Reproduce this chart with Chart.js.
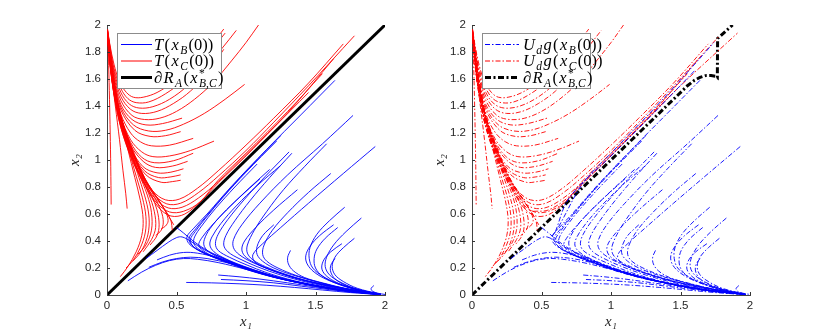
<!DOCTYPE html>
<html><head><meta charset="utf-8">
<script src="https://cdn.jsdelivr.net/npm/chart.js@4.4.1/dist/chart.umd.min.js"></script>
<style>
body{margin:0;background:#fff;width:830px;height:332px;overflow:hidden;position:relative}
canvas{position:absolute;top:0}
</style></head><body>
<canvas id="c1" width="414" height="332" style="left:0"></canvas>
<canvas id="c2" width="416" height="332" style="left:414px"></canvas>
<script>
// ---------- tick values / labels ----------
const xTicks = [0, 0.5, 1, 1.5, 2];
const xTickLabels = ['0', '0.5', '1', '1.5', '2'];
const yTicks = [0, 0.2, 0.4, 0.6, 0.8, 1, 1.2, 1.4, 1.6, 1.8, 2];
const yTickLabels = ['0', '0.2', '0.4', '0.6', '0.8', '1', '1.2', '1.4', '1.6', '1.8', '2'];

// ---------- red trajectories T(x_C(0)) : U-shaped ----------
const redU = [
 [[0.004,1.97],[0.02,1.86],[0.05,1.71],[0.09,1.58],[0.14,1.5],[0.19,1.465],[0.26,1.465],[0.36,1.5],[0.48,1.58],[0.6,1.68],[0.72,1.81],[0.84,1.97]],
 [[0.004,1.965],[0.02,1.85],[0.05,1.68],[0.1,1.53],[0.15,1.455],[0.21,1.425],[0.3,1.43],[0.42,1.49],[0.55,1.59],[0.7,1.75],[0.85,1.94]],
 [[0.004,1.96],[0.02,1.84],[0.05,1.66],[0.1,1.5],[0.16,1.415],[0.23,1.385],[0.33,1.395],[0.45,1.45],[0.58,1.55],[0.72,1.7],[0.83,1.83],[0.93,1.96]],
 [[0.004,1.96],[0.02,1.83],[0.05,1.64],[0.1,1.47],[0.17,1.375],[0.25,1.345],[0.36,1.36],[0.48,1.42],[0.6,1.51],[0.72,1.64],[0.84,1.82]],
 [[0.004,1.955],[0.02,1.82],[0.05,1.62],[0.1,1.44],[0.18,1.33],[0.27,1.3],[0.38,1.31],[0.5,1.36],[0.63,1.45],[0.76,1.57],[0.9,1.74],[1.0,1.87],[1.09,2.0]],
 [[0.004,1.95],[0.02,1.81],[0.05,1.6],[0.1,1.41],[0.18,1.3],[0.28,1.26],[0.4,1.27],[0.54,1.31]],
 [[0.004,1.95],[0.02,1.8],[0.05,1.59],[0.1,1.39],[0.19,1.26],[0.3,1.215],[0.42,1.22],[0.55,1.265],[0.7,1.345],[0.85,1.45],[0.99,1.56]],
 [[0.004,1.945],[0.02,1.79],[0.05,1.57],[0.1,1.37],[0.2,1.22],[0.31,1.175],[0.42,1.18],[0.53,1.21]],
 [[0.004,1.94],[0.02,1.78],[0.05,1.56],[0.1,1.34],[0.17,1.2],[0.24,1.135],[0.32,1.105],[0.45,1.11],[0.62,1.16]],
 [[0.004,1.94],[0.02,1.77],[0.05,1.55],[0.1,1.32],[0.17,1.15],[0.25,1.06],[0.33,1.025],[0.45,1.03],[0.6,1.07],[0.77,1.14]],
 [[0.004,1.935],[0.02,1.76],[0.05,1.54],[0.1,1.31],[0.17,1.13],[0.25,1.02],[0.34,0.98],[0.48,0.995],[0.62,1.05]],
 [[0.004,1.935],[0.02,1.76],[0.05,1.53],[0.1,1.3],[0.17,1.11],[0.26,0.99],[0.35,0.945],[0.47,0.955],[0.58,0.99]],
 [[0.004,1.93],[0.02,1.75],[0.05,1.53],[0.1,1.29],[0.17,1.09],[0.26,0.95],[0.36,0.905],[0.46,0.91],[0.55,0.935]],
 [[0.004,1.93],[0.02,1.75],[0.05,1.52],[0.1,1.28],[0.18,1.06],[0.27,0.92],[0.37,0.87],[0.46,0.875],[0.53,0.89]],
 [[0.004,1.93],[0.02,1.74],[0.05,1.52],[0.1,1.28],[0.18,1.05],[0.28,0.89],[0.39,0.835],[0.47,0.84],[0.53,0.85]],
 [[0.004,1.925],[0.02,1.74],[0.05,1.51],[0.1,1.27],[0.17,1.06],[0.25,0.9],[0.33,0.77],[0.42,0.705],[0.52,0.71],[0.65,0.79],[0.8,0.92],[1.0,1.11],[1.2,1.31],[1.45,1.57],[1.7,1.86]],
 [[0.004,1.925],[0.02,1.73],[0.05,1.5],[0.1,1.26],[0.17,1.05],[0.25,0.88],[0.34,0.745],[0.43,0.675],[0.53,0.68],[0.66,0.76],[0.8,0.88],[1.0,1.07],[1.2,1.28],[1.45,1.55],[1.78,1.92]],
 [[0.004,1.92],[0.02,1.73],[0.05,1.5],[0.1,1.25],[0.18,1.02],[0.26,0.85],[0.35,0.71],[0.44,0.645],[0.54,0.65],[0.66,0.72],[0.8,0.84],[1.0,1.04],[1.3,1.35],[1.63,1.75]],
 [[0.004,1.92],[0.02,1.72],[0.05,1.49],[0.1,1.24],[0.18,1.01],[0.27,0.82],[0.36,0.68],[0.45,0.615],[0.55,0.62],[0.67,0.69],[0.8,0.85],[1.0,1.05],[1.3,1.36],[1.55,1.64]],
 [[0.004,1.92],[0.02,1.72],[0.05,1.49],[0.1,1.24],[0.18,1.0],[0.28,0.8],[0.37,0.65],[0.46,0.585],[0.56,0.6],[0.68,0.7],[0.8,0.83],[1.0,1.03],[1.2,1.24],[1.45,1.5]]
];
// ---------- red trajectories : bending back to lower-left ----------
const redS = [
 [[0.006,1.9],[0.012,1.7],[0.018,1.45],[0.023,1.2],[0.027,0.95],[0.03,0.67]],
 [[0.01,1.88],[0.03,1.65],[0.06,1.4],[0.09,1.15],[0.115,0.92],[0.135,0.75],[0.145,0.64]],
 [[0.008,1.92],[0.03,1.7],[0.06,1.5],[0.1,1.3],[0.15,1.08],[0.2,0.87],[0.24,0.7],[0.26,0.56],[0.25,0.44],[0.21,0.32],[0.15,0.21],[0.096,0.136]],
 [[0.008,1.92],[0.03,1.7],[0.06,1.5],[0.1,1.31],[0.15,1.1],[0.21,0.88],[0.255,0.72],[0.28,0.58],[0.275,0.46],[0.24,0.35],[0.19,0.26],[0.137,0.2]],
 [[0.008,1.92],[0.03,1.71],[0.06,1.5],[0.1,1.31],[0.16,1.1],[0.22,0.9],[0.27,0.74],[0.3,0.6],[0.3,0.48],[0.27,0.37],[0.23,0.3],[0.184,0.25]],
 [[0.008,1.92],[0.03,1.71],[0.06,1.5],[0.1,1.32],[0.16,1.11],[0.23,0.9],[0.29,0.74],[0.32,0.61],[0.32,0.48],[0.28,0.37],[0.22,0.3]],
 [[0.008,1.92],[0.03,1.71],[0.06,1.51],[0.1,1.32],[0.17,1.1],[0.24,0.9],[0.3,0.75],[0.34,0.62],[0.35,0.5],[0.32,0.41],[0.26,0.32]],
 [[0.008,1.92],[0.03,1.72],[0.06,1.51],[0.1,1.32],[0.17,1.1],[0.25,0.89],[0.32,0.74],[0.36,0.63],[0.375,0.52],[0.36,0.44],[0.31,0.37]],
 [[0.008,1.92],[0.03,1.72],[0.06,1.51],[0.1,1.32],[0.17,1.1],[0.26,0.88],[0.34,0.73],[0.39,0.62],[0.405,0.54],[0.39,0.48],[0.35,0.44]],
 [[0.008,1.92],[0.03,1.72],[0.06,1.51],[0.1,1.32],[0.18,1.09],[0.27,0.87],[0.36,0.72],[0.42,0.62],[0.44,0.55],[0.42,0.51],[0.39,0.49]],
 [[0.008,1.92],[0.03,1.72],[0.06,1.51],[0.1,1.31],[0.18,1.07],[0.28,0.85],[0.38,0.69],[0.44,0.59],[0.48,0.52]],
 [[0.008,1.92],[0.03,1.72],[0.06,1.5],[0.1,1.3],[0.18,1.06],[0.28,0.84],[0.37,0.7],[0.43,0.61],[0.46,0.55],[0.47,0.48]]
];
// ---------- blue trajectories T(x_B(0)) : C-shaped ----------
const blueC = [
 [[1.64,1.59],[1.4,1.34],[1.15,1.08],[0.9,0.81],[0.72,0.6],[0.62,0.49],[0.575,0.43],[0.59,0.38],[0.66,0.33],[0.8,0.265],[1.0,0.195],[1.2,0.135],[1.4,0.088],[1.6,0.05],[1.8,0.021],[1.97,0.004]],
 [[1.25,1.18],[1.05,0.97],[0.87,0.77],[0.72,0.59],[0.63,0.48],[0.59,0.42],[0.61,0.37],[0.68,0.32],[0.82,0.26],[1.0,0.193],[1.2,0.133],[1.4,0.087],[1.6,0.049],[1.8,0.02],[1.97,0.004]],
 [[1.22,1.14],[1.0,0.91],[0.84,0.73],[0.71,0.57],[0.635,0.47],[0.6,0.41],[0.62,0.36],[0.7,0.31],[0.84,0.252],[1.0,0.19],[1.2,0.131],[1.4,0.086],[1.6,0.048],[1.8,0.02],[1.97,0.004]],
 [[1.08,0.97],[0.92,0.8],[0.78,0.64],[0.68,0.51],[0.63,0.43],[0.625,0.38],[0.66,0.34],[0.74,0.295],[0.88,0.24],[1.05,0.178],[1.25,0.12],[1.45,0.077],[1.65,0.041],[1.85,0.015],[1.97,0.004]],
 [[1.17,0.93],[1.0,0.77],[0.86,0.63],[0.75,0.51],[0.68,0.42],[0.66,0.37],[0.69,0.33],[0.77,0.285],[0.9,0.235],[1.05,0.18],[1.25,0.122],[1.45,0.078],[1.65,0.042],[1.85,0.015],[1.97,0.004]],
 [[1.10,0.86],[0.95,0.72],[0.83,0.6],[0.74,0.49],[0.7,0.41],[0.7,0.36],[0.74,0.315],[0.82,0.27],[0.95,0.22],[1.1,0.165],[1.3,0.11],[1.5,0.068],[1.7,0.034],[1.9,0.01]],
 [[1.25,0.96],[1.08,0.81],[0.93,0.66],[0.82,0.53],[0.755,0.43],[0.74,0.37],[0.77,0.32],[0.85,0.27],[0.98,0.215],[1.15,0.155],[1.35,0.1],[1.55,0.06],[1.75,0.028],[1.95,0.006]],
 [[1.31,1.06],[1.14,0.88],[0.99,0.71],[0.87,0.56],[0.8,0.45],[0.78,0.38],[0.8,0.33],[0.88,0.28],[1.0,0.225],[1.15,0.165],[1.35,0.105],[1.55,0.063],[1.75,0.03],[1.95,0.006]],
 [[1.33,1.05],[1.17,0.87],[1.03,0.7],[0.92,0.55],[0.855,0.44],[0.84,0.37],[0.87,0.32],[0.95,0.27],[1.08,0.21],[1.25,0.148],[1.45,0.092],[1.65,0.05],[1.85,0.018],[1.97,0.004]],
 [[1.77,1.33],[1.55,1.12],[1.3,0.89],[1.1,0.68],[0.97,0.52],[0.91,0.41],[0.91,0.35],[0.95,0.3],[1.04,0.245],[1.18,0.185],[1.35,0.125],[1.55,0.075],[1.75,0.036],[1.95,0.008]],
 [[1.37,0.78],[1.2,0.63],[1.07,0.5],[0.99,0.4],[0.97,0.34],[0.99,0.29],[1.06,0.24],[1.2,0.18],[1.38,0.12],[1.58,0.07],[1.78,0.032],[1.95,0.008]],
 [[1.93,1.1],[1.7,0.9],[1.45,0.68],[1.25,0.5],[1.12,0.38],[1.05,0.3],[1.06,0.25],[1.12,0.21],[1.25,0.16],[1.42,0.11],[1.62,0.065],[1.82,0.028],[1.97,0.006]],
 [[1.58,1.12],[1.42,0.95],[1.27,0.78],[1.15,0.62],[1.06,0.48],[1.01,0.37],[1.01,0.31],[1.05,0.26],[1.14,0.21],[1.28,0.155],[1.46,0.1],[1.66,0.056],[1.86,0.02]],
 [[1.61,0.9],[1.45,0.76],[1.3,0.61],[1.19,0.48],[1.13,0.37],[1.12,0.3],[1.15,0.25],[1.23,0.2],[1.36,0.145],[1.52,0.095],[1.7,0.05],[1.9,0.015]],
 [[1.2,0.52],[1.12,0.44],[1.08,0.36],[1.08,0.3],[1.12,0.25],[1.2,0.2],[1.33,0.15],[1.5,0.1],[1.7,0.05],[1.9,0.015]],
 [[1.32,0.33],[1.3,0.28],[1.305,0.23],[1.34,0.18],[1.42,0.13],[1.55,0.09],[1.72,0.048],[1.9,0.014]],
 [[1.63,0.52],[1.53,0.44],[1.46,0.36],[1.43,0.29],[1.44,0.23],[1.49,0.17],[1.58,0.115],[1.7,0.07],[1.85,0.03],[1.97,0.006]],
 [[1.66,0.5],[1.57,0.42],[1.51,0.34],[1.49,0.27],[1.5,0.2],[1.55,0.14],[1.64,0.09],[1.78,0.042],[1.95,0.008]],
 [[1.71,0.65],[1.6,0.55],[1.51,0.45],[1.46,0.35],[1.455,0.27],[1.48,0.2],[1.55,0.14],[1.65,0.09],[1.8,0.04],[1.97,0.006]],
 [[1.69,0.38],[1.61,0.32],[1.56,0.26],[1.545,0.2],[1.57,0.15],[1.63,0.105],[1.73,0.06],[1.87,0.02]],
 [[1.83,0.57],[1.72,0.47],[1.63,0.37],[1.58,0.28],[1.57,0.21],[1.6,0.15],[1.67,0.1],[1.78,0.05],[1.92,0.012]],
 [[1.78,0.42],[1.7,0.35],[1.64,0.28],[1.62,0.21],[1.64,0.15],[1.7,0.1],[1.8,0.05],[1.95,0.01]],
 [[1.64,0.27],[1.61,0.22],[1.61,0.17],[1.64,0.12],[1.71,0.075],[1.82,0.035],[1.95,0.008]],
 [[1.92,0.07],[1.9,0.048],[1.91,0.028],[1.95,0.013],[2.0,0.004]]
];
// ---------- blue trajectories : humps and flat ones near the bottom ----------
const blueLow = [
 [[0.15,0.105],[0.25,0.17],[0.35,0.22],[0.45,0.255],[0.55,0.27],[0.65,0.265],[0.8,0.24],[1.0,0.19],[1.2,0.132],[1.4,0.086],[1.6,0.049],[1.8,0.02],[1.97,0.004]],
 [[0.3,0.205],[0.4,0.245],[0.5,0.27],[0.6,0.28],[0.72,0.27],[0.88,0.235],[1.05,0.185],[1.25,0.125],[1.45,0.08],[1.65,0.043],[1.85,0.016]],
 [[0.36,0.26],[0.45,0.295],[0.55,0.315],[0.65,0.31],[0.8,0.275],[1.0,0.205],[1.2,0.14],[1.4,0.09],[1.6,0.05],[1.8,0.021],[1.97,0.004]],
 [[0.28,0.27],[0.36,0.33],[0.44,0.39],[0.5,0.425],[0.54,0.43],[0.6,0.4],[0.7,0.335],[0.85,0.265],[1.0,0.2],[1.2,0.137],[1.4,0.088],[1.6,0.05],[1.8,0.021],[1.97,0.004]],
 [[0.5,0.5],[0.55,0.46],[0.62,0.4],[0.72,0.33],[0.86,0.262],[1.0,0.2],[1.2,0.137],[1.4,0.089],[1.6,0.05]],
 [[0.57,0.093],[0.75,0.09],[0.95,0.083],[1.15,0.072],[1.35,0.056],[1.55,0.037],[1.75,0.018],[1.95,0.004]],
 [[0.8,0.148],[0.95,0.135],[1.1,0.118],[1.3,0.09],[1.5,0.06],[1.7,0.03],[1.9,0.008]],
 [[0.82,0.115],[1.0,0.106],[1.2,0.09],[1.4,0.065],[1.6,0.04],[1.8,0.017]]
];
// ---------- extra trajectories seen only in the right panel ----------
const redExtraR = [
 [[0.44,0.62],[0.55,0.63],[0.7,0.73],[0.9,0.93],[1.2,1.24],[1.5,1.55],[1.91,1.94]]
];
const blueExtraR = [
 [[0.58,0.44],[0.62,0.5],[0.8,0.83],[1.0,1.05],[1.3,1.37],[1.55,1.65],[1.74,1.87]],
 [[0.6,0.47],[0.7,0.72],[1.0,1.03],[1.3,1.34],[1.6,1.66]]
];
// ---------- boundaries dR_A ----------
const boundaryL = [[0,0],[2,2]];
const boundaryR = [[0,0],[0.5,0.5],[1.0,1.0],[1.55,1.55],[1.6,1.59],[1.64,1.612],[1.68,1.625],[1.72,1.626],[1.75,1.62],[1.765,1.61],[1.767,1.9],[1.875,2.0]];

// ---------- helpers ----------
const BLUE = '#0000ff', RED = '#ff0000';
const DASHDOT = [5, 2, 1.5, 2];
const THICKDASH = [6, 2.5, 2, 2.5];
function sets(curves, color, dash, width) {
  return curves.map(c => ({data: c, borderColor: color, borderWidth: width, borderDash: dash,
    pointRadius: 0, showLine: true, tension: 0.35, fill: false}));
}
function drawMath(ctx, x, y, parts) {
  const fam = '"Liberation Serif","DejaVu Serif",serif';
  let cx = x;
  for (const p of parts) {
    const sz = (p.sub || p.sup) ? 11.5 : 16.5;
    ctx.font = (p.it ? 'italic ' : '') + sz + 'px ' + fam;
    const dy = p.sub ? 4 : (p.sup ? -6 : 0);
    ctx.fillText(p.t, cx, y + dy);
    if (!p.noadv) cx += ctx.measureText(p.t).width + 1.4;
  }
}
const legendPlugin = {
  id: 'mathLegend',
  afterDraw(chart) {
    const o = chart.options.plugins.mathLegend;
    if (!o) return;
    const ctx = chart.ctx, ca = chart.chartArea;
    // inward ticks
    ctx.save();
    ctx.strokeStyle = '#333'; ctx.lineWidth = 1; ctx.setLineDash([]);
    ctx.beginPath();
    for (const v of xTicks) { const px = Math.round(chart.scales.x.getPixelForValue(v)) + 0.5; ctx.moveTo(px, ca.bottom); ctx.lineTo(px, ca.bottom - 3); }
    for (const v of yTicks) { const py = Math.round(chart.scales.y.getPixelForValue(v)) + 0.5; ctx.moveTo(ca.left, py); ctx.lineTo(ca.left + 3, py); }
    ctx.stroke();
    // legend box
    const bx = ca.left + 10, by = 33;
    ctx.fillStyle = '#fff'; ctx.fillRect(bx, by, o.w, 55);
    ctx.strokeStyle = '#8c8c8c'; ctx.lineWidth = 1;
    ctx.strokeRect(bx + 0.5, by + 0.5, o.w, 55);
    const rows = [44.5, 61, 77.5];
    o.entries.forEach((e, i) => {
      ctx.strokeStyle = e.color; ctx.lineWidth = e.width; ctx.setLineDash(e.dash);
      ctx.beginPath(); ctx.moveTo(ca.left + o.s0, rows[i]); ctx.lineTo(ca.left + o.s1, rows[i]); ctx.stroke();
      ctx.setLineDash([]);
      ctx.fillStyle = '#000'; ctx.textBaseline = 'alphabetic'; ctx.textAlign = 'left';
      drawMath(ctx, ca.left + o.tx, rows[i] + 5, e.parts);
    });
    ctx.restore();
  }
};
function scales() {
  const tickFont = {family: '"Liberation Sans", Arial, sans-serif', size: 11.5};
  const titleFont = {family: '"Liberation Serif","DejaVu Serif",serif', size: 15, style: 'italic'};
  return {
    x: {type: 'linear', min: 0, max: 2,
      afterBuildTicks: s => { s.ticks = xTicks.map(v => ({value: v})); },
      afterFit: s => { s.height = 37; },
      ticks: {callback: v => xTickLabels[xTicks.indexOf(v)], font: tickFont, color: '#262626', padding: 4, maxRotation: 0, autoSkip: false},
      grid: {display: false, drawTicks: false},
      border: {display: true, color: '#444', width: 1},
      title: {display: true, text: 'x₁', font: titleFont, color: '#262626', padding: {top: 0, bottom: 1}}},
    y: {type: 'linear', min: 0, max: 2,
      afterBuildTicks: s => { s.ticks = yTicks.map(v => ({value: v})); },
      afterFit: s => { s.width = 58; },
      ticks: {callback: v => yTickLabels[yTicks.indexOf(v)], font: tickFont, color: '#262626', padding: 6, autoSkip: false},
      grid: {display: false, drawTicks: false},
      border: {display: true, color: '#444', width: 1},
      title: {display: true, text: 'x₂', font: titleFont, color: '#262626', padding: {top: 17, bottom: 0}}}
  };
}
function make(id, datasets, pad, legend) {
  return new Chart(document.getElementById(id), {
    type: 'scatter',
    data: {datasets},
    options: {responsive: false, animation: false, devicePixelRatio: 1,
      layout: {padding: pad},
      plugins: {legend: {display: false}, tooltip: {enabled: false}, mathLegend: legend},
      scales: scales()},
    plugins: [legendPlugin]
  });
}
const lw = 0.9;
const dsL = [].concat(
  sets(blueC, BLUE, [], lw), sets(blueLow, BLUE, [], lw),
  sets(redU, RED, [], lw), sets(redS, RED, [], lw),
  [{data: boundaryL, borderColor: '#000', borderWidth: 3, pointRadius: 0, showLine: true, tension: 0}]
);
const dsR = [].concat(
  sets(blueC, BLUE, DASHDOT, lw), sets(blueLow, BLUE, DASHDOT, lw), sets(blueExtraR, BLUE, DASHDOT, lw),
  sets(redU, RED, DASHDOT, lw), sets(redS, RED, DASHDOT, lw), sets(redExtraR, RED, DASHDOT, lw),
  [{data: boundaryR, borderColor: '#000', borderWidth: 3, borderDash: THICKDASH, pointRadius: 0, showLine: true, tension: 0}]
);
make('c1', dsL, {left: 49, right: 29, top: 25, bottom: 0}, {
  w: 104, s0: 14, s1: 45, tx: 47,
  entries: [
    {color: BLUE, width: 1, dash: [], parts: [{t:'T',it:1},{t:'('},{t:'x',it:1},{t:'B',it:1,sub:1},{t:'(0))'}]},
    {color: RED, width: 1, dash: [], parts: [{t:'T',it:1},{t:'('},{t:'x',it:1},{t:'C',it:1,sub:1},{t:'(0))'}]},
    {color: '#000', width: 3, dash: [], parts: [{t:'∂'},{t:'R',it:1},{t:'A',it:1,sub:1},{t:'('},{t:'x',it:1},{t:'*',sup:1,noadv:1},{t:'B,C',it:1,sub:1},{t:')'}]}
  ]});
make('c2', dsR, {left: 0, right: 80, top: 25, bottom: 0}, {
  w: 108, s0: 13, s1: 47, tx: 51,
  entries: [
    {color: BLUE, width: 1, dash: DASHDOT, parts: [{t:'U',it:1},{t:'d',it:1,sub:1},{t:'g',it:1},{t:'('},{t:'x',it:1},{t:'B',it:1,sub:1},{t:'(0))'}]},
    {color: RED, width: 1, dash: DASHDOT, parts: [{t:'U',it:1},{t:'d',it:1,sub:1},{t:'g',it:1},{t:'('},{t:'x',it:1},{t:'C',it:1,sub:1},{t:'(0))'}]},
    {color: '#000', width: 3, dash: THICKDASH, parts: [{t:'∂'},{t:'R',it:1},{t:'A',it:1,sub:1},{t:'('},{t:'x',it:1},{t:'*',sup:1,noadv:1},{t:'B,C',it:1,sub:1},{t:')'}]}
  ]});
</script>
</body></html>
